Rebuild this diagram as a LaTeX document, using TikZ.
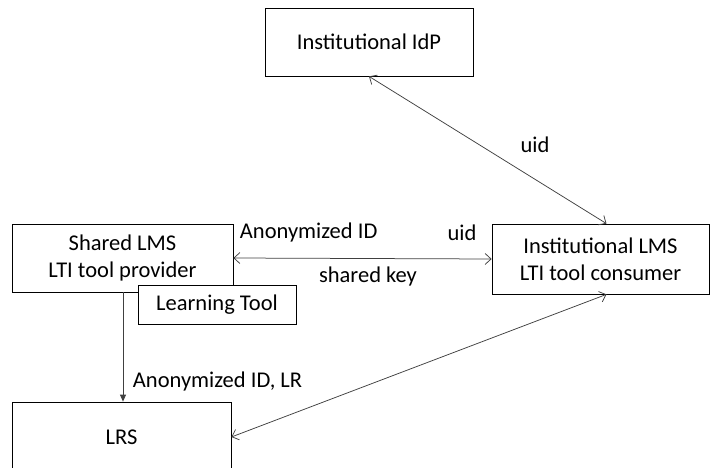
\documentclass[tikz,border=0pt]{standalone}
\usepackage{fontspec}
\setmainfont{Carlito}
\usetikzlibrary{arrows.meta}

\tikzset{
  box/.style={draw,line width=0.75pt,fill=white,align=center,inner sep=0pt,
    font=\fontsize{22.5}{27}\selectfont},
  link/.style={draw=black!75,line width=0.75pt},
  lbl/.style={inner sep=0.75pt,font=\fontsize{22.5}{27}\selectfont}
}

\begin{document}
\begin{tikzpicture}[x=1pt,y=1pt,yscale=-1,xscale=1,
  >={Straight Barb[length=6pt,width=11pt]}]
\path[use as bounding box,clip] (0,0) rectangle (710,468);

% Shape: Rectangle
\node[box,minimum width=208pt,minimum height=68pt] (idp) at (369,42) {Institutional IdP};
% Shape: Rectangle
\node[box,minimum width=221pt,minimum height=68pt] (shared) at (122.5,258) {Shared LMS\\LTI tool provider};
% Shape: Rectangle
\node[box,minimum width=158pt,minimum height=39pt] (tool) at (217,305) {Learning Tool};
% Shape: Rectangle
\node[box,minimum width=217pt,minimum height=70pt] (inst) at (600.5,259) {Institutional LMS\\LTI tool consumer};
% Shape: Rectangle
\node[box,minimum width=219pt,minimum height=70pt] (lrs) at (121.5,437) {LRS};

% Straight Lines
\draw[link,<->] (idp.south) -- ([xshift=6pt]inst.north);
\draw[link,<->] (shared.east) -- (inst.west);
\draw[link,-{Triangle[length=7pt,width=6pt]}] ([xshift=0.5pt]shared.south) -- ([xshift=1.5pt]lrs.north);
\draw[link,<->] ([xshift=6pt]inst.south) -- (lrs.east);

% Text Node
\node[lbl] (uidtop) at (535,145) {uid};
% Text Node
\node[lbl,anchor=west] (anonid) at (239,233) {Anonymized ID};
% Text Node
\node[lbl] (uidmid) at (462,233) {uid};
% Text Node
\node[lbl] (key) at (368,277) {shared key};
% Text Node
\node[lbl,anchor=west] (anonlr) at (132,381) {Anonymized ID, LR};
\end{tikzpicture}
\end{document}
